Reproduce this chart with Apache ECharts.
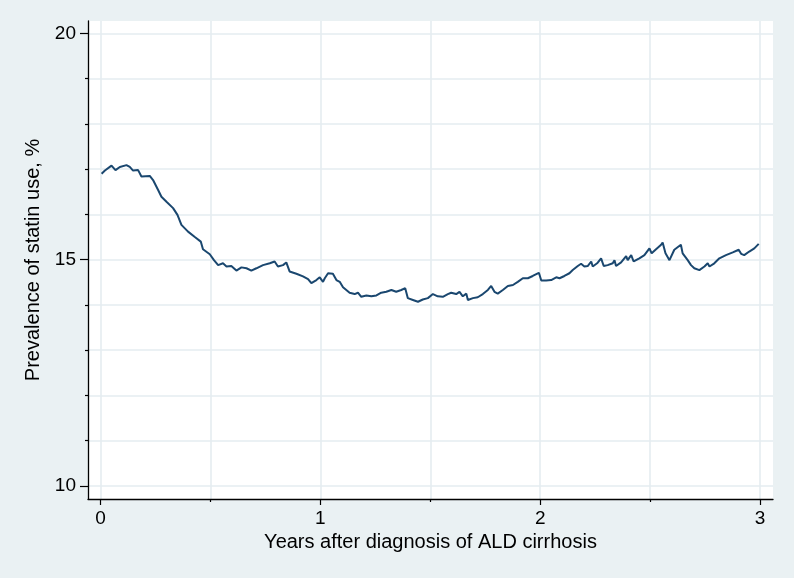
<!DOCTYPE html>
<html>
<head>
<meta charset="utf-8">
<script src="https://cdn.jsdelivr.net/npm/echarts@6/dist/echarts.min.js"></script>
<style>
html,body{margin:0;padding:0;background:#EAF1F3;}
#chart{width:794px;height:578px;}
</style>
</head>
<body>
<div id="chart"></div>
<script>
// Data
var years = [0.005,0.02,0.05,0.068,0.088,0.118,0.133,0.148,0.171,0.186,0.224,0.239,0.262,0.277,0.30,0.33,0.35,0.368,0.398,0.429,0.456,0.466,0.497,0.516,0.535,0.557,0.573,0.595,0.618,0.641,0.664,0.686,0.709,0.739,0.77,0.792,0.807,0.83,0.845,0.86,0.891,0.921,0.944,0.959,0.982,0.997,1.012,1.02,1.035,1.057,1.073,1.088,1.103,1.118,1.133,1.156,1.171,1.186,1.209,1.232,1.255,1.277,1.30,1.323,1.345,1.368,1.386,1.398,1.421,1.444,1.466,1.489,1.512,1.534,1.557,1.58,1.595,1.618,1.633,1.648,1.664,1.671,1.694,1.716,1.739,1.762,1.777,1.792,1.807,1.83,1.853,1.876,1.898,1.921,1.944,1.966,1.994,2.005,2.027,2.05,2.073,2.088,2.11,2.133,2.148,2.171,2.186,2.201,2.216,2.232,2.239,2.259,2.277,2.289,2.307,2.33,2.338,2.345,2.368,2.391,2.398,2.414,2.425,2.451,2.474,2.497,2.507,2.527,2.55,2.557,2.57,2.588,2.61,2.64,2.648,2.671,2.686,2.701,2.724,2.747,2.762,2.77,2.792,2.815,2.845,2.876,2.903,2.914,2.928,2.951,2.974,2.994];
var prevalence = [16.90,16.97,17.08,16.98,17.05,17.09,17.05,16.97,16.98,16.84,16.85,16.76,16.54,16.39,16.28,16.14,15.99,15.77,15.62,15.50,15.40,15.23,15.12,14.99,14.88,14.92,14.85,14.86,14.76,14.83,14.81,14.76,14.81,14.88,14.92,14.96,14.85,14.88,14.94,14.74,14.69,14.63,14.57,14.48,14.55,14.61,14.51,14.59,14.70,14.69,14.55,14.51,14.39,14.33,14.27,14.24,14.27,14.18,14.21,14.19,14.21,14.27,14.29,14.33,14.29,14.33,14.37,14.15,14.11,14.07,14.12,14.15,14.24,14.19,14.18,14.24,14.27,14.24,14.29,14.19,14.25,14.11,14.15,14.17,14.24,14.33,14.42,14.29,14.25,14.33,14.42,14.44,14.51,14.59,14.59,14.64,14.71,14.54,14.54,14.55,14.61,14.59,14.64,14.70,14.77,14.86,14.91,14.85,14.86,14.96,14.85,14.92,15.03,14.86,14.88,14.92,14.99,14.86,14.94,15.08,14.99,15.10,14.96,15.03,15.10,15.25,15.14,15.23,15.33,15.38,15.14,14.99,15.22,15.33,15.14,14.99,14.88,14.81,14.77,14.85,14.92,14.85,14.92,15.03,15.10,15.16,15.22,15.13,15.10,15.18,15.25,15.35];
var xMajorTicks = [0, 1, 2, 3];
var xMinorTicks = [0.5, 1.5, 2.5];
var yMajorTicks = [10, 15, 20];
var yMinorTicks = [11, 12, 13, 14, 16, 17, 18, 19];
var xTitle = 'Years after diagnosis of ALD cirrhosis';
var yTitle = 'Prevalence of statin use, %';

var seriesData = years.map(function (x, i) { return [x, prevalence[i]]; });

var FONT = '"Liberation Sans", Arial, sans-serif';
var gridColor = '#E5EDF0';
var xMin = -0.057, xMax = 3.059, yMin = 9.71, yMax = 20.276;

var chart = echarts.init(document.getElementById('chart'), null, {renderer: 'canvas'});
chart.setOption({
  backgroundColor: '#EAF1F3',
  animation: false,
  grid: {left: 88, right: 21, top: 21, bottom: 79, show: true, backgroundColor: '#ffffff', borderWidth: 0},
  xAxis: [{
    type: 'value', min: xMin, max: xMax, position: 'bottom',
    name: xTitle, nameLocation: 'middle', nameGap: 31,
    nameTextStyle: {color: '#000', fontSize: 20, fontFamily: FONT},
    axisLine: {show: true, onZero: false, lineStyle: {color: '#000', width: 1.3}},
    axisTick: {show: true, length: 6, customValues: xMajorTicks, lineStyle: {color: '#000', width: 1.2}},
    axisLabel: {show: true, customValues: xMajorTicks, margin: 10, color: '#000', fontSize: 19, fontFamily: FONT},
    splitLine: {show: true, lineStyle: {color: gridColor, width: 1.6}}
  }, {
    type: 'value', min: xMin, max: xMax, position: 'bottom',
    axisLine: {show: false, onZero: false},
    axisTick: {show: true, length: 3, customValues: xMinorTicks, lineStyle: {color: '#000', width: 1.2}},
    axisLabel: {show: false},
    splitLine: {show: true, lineStyle: {color: gridColor, width: 1.6}}
  }],
  yAxis: [{
    type: 'value', min: yMin, max: yMax, position: 'left',
    name: yTitle, nameLocation: 'middle', nameGap: 44,
    nameTextStyle: {color: '#000', fontSize: 20, fontFamily: FONT},
    axisLine: {show: true, onZero: false, lineStyle: {color: '#000', width: 1.3}},
    axisTick: {show: true, length: 8, customValues: yMajorTicks, lineStyle: {color: '#000', width: 1.2}},
    axisLabel: {show: true, customValues: yMajorTicks, margin: 12, color: '#000', fontSize: 19, fontFamily: FONT},
    splitLine: {show: true, lineStyle: {color: gridColor, width: 1.6}}
  }, {
    type: 'value', min: yMin, max: yMax, position: 'left',
    axisLine: {show: false, onZero: false},
    axisTick: {show: true, length: 3, customValues: yMinorTicks, lineStyle: {color: '#000', width: 1.2}},
    axisLabel: {show: false},
    splitLine: {show: true, lineStyle: {color: gridColor, width: 1.6}}
  }],
  series: [{
    type: 'line', xAxisIndex: 0, yAxisIndex: 0,
    data: seriesData, showSymbol: false, symbol: 'none',
    lineStyle: {color: '#1A476F', width: 2},
    z: 5
  }]
});
</script>
</body>
</html>
